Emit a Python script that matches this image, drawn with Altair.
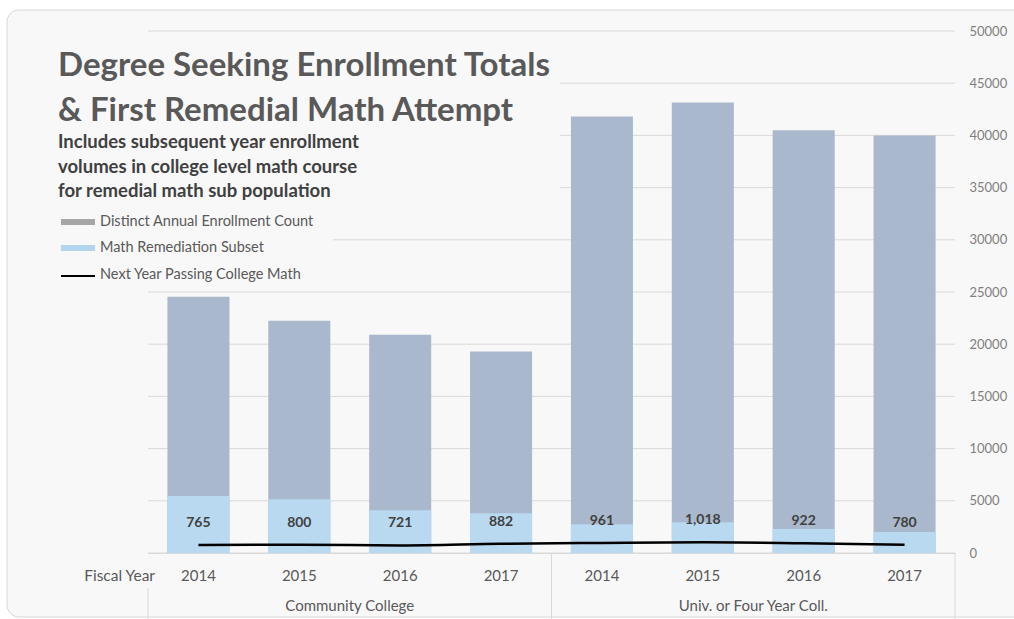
import altair as alt
import pandas as pd

# ---- data ----
groups = ["Community College"] * 4 + ["Univ. or Four Year Coll."] * 4
years = ["2014", "2015", "2016", "2017"] * 2
totals = [24550, 22250, 20900, 19300, 41800, 43150, 40500, 40000]
remedial = [5450, 5150, 4100, 3800, 2750, 2950, 2300, 2000]
passing = [765, 800, 721, 882, 961, 1018, 922, 780]
y_ticks = list(range(0, 50001, 5000))
group_names = ["Community College", "Univ. or Four Year Coll."]
title_lines = ["Degree Seeking Enrollment Totals", "& First Remedial Math Attempt"]
subtitle_lines = ["Includes subsequent year enrollment",
                  "volumes in college level math course",
                  "for remedial math sub population"]
legend_labels = ["Distinct Annual Enrollment Count", "Math Remediation Subset",
                 "Next Year Passing College Math"]

df = pd.DataFrame({"group": groups, "year": years, "total": totals,
                   "remedial": remedial, "passing": passing})
df["key"] = df["group"] + "|" + df["year"]
order = list(df["key"])
grid_df = pd.DataFrame({"v": y_ticks})
one = pd.DataFrame({"a": [0]})

FONT = "Lato"
CARD = "#f8f8f8"
TXT = "#595959"
W, H = 807, 522

x_axis = alt.Axis(title=None, labelExpr="split(datum.label,'|')[1]",
                  labelAngle=0, ticks=False, tickSize=0, labelPadding=15,
                  labelFont=FONT, labelFontSize=15, labelColor=TXT,
                  domainColor="#d9d9d9", grid=False, zindex=2)
x_enc = alt.X("key:N", sort=order,
              scale=alt.Scale(paddingInner=0.385, paddingOuter=0.1925),
              axis=x_axis)
y_scale = alt.Scale(domain=[0, 50000], nice=False, zero=True)
y_axis = alt.Axis(orient="right", values=y_ticks, format="d", title=None,
                  domain=False, ticks=False, tickSize=0, grid=False, labelPadding=14,
                  labelFont=FONT, labelFontSize=13, labelColor="#7f7f7f", zindex=2)

base = alt.Chart(df)

card = alt.Chart(one).mark_rect(fill=CARD, stroke="#d6d6d6", strokeWidth=1,
                                cornerRadius=12).encode(
    x=alt.value(-141), x2=alt.value(950), y=alt.value(-21), y2=alt.value(586))

grid = alt.Chart(grid_df).mark_rule(color="#d9d9d9", strokeWidth=1).encode(
    y=alt.Y("v:Q", scale=y_scale, axis=y_axis), x=alt.value(0), x2=alt.value(W))

mask1 = alt.Chart(one).mark_rect(fill=CARD).encode(
    x=alt.value(0), x2=alt.value(412), y=alt.value(10), y2=alt.value(190))
mask2 = alt.Chart(one).mark_rect(fill=CARD).encode(
    x=alt.value(0), x2=alt.value(185), y=alt.value(190), y2=alt.value(240))

bars_total = base.mark_bar(color="#a9b8cc").encode(
    x=x_enc, y=alt.Y("total:Q", scale=y_scale, axis=y_axis))
bars_rem = base.mark_bar(color="#b9d9f0").encode(
    x=alt.X("key:N", sort=order, axis=x_axis),
    y=alt.Y("remedial:Q", scale=y_scale, axis=y_axis))
line = base.mark_line(color="black", strokeWidth=2.5, interpolate="monotone").encode(
    x=alt.X("key:N", sort=order, axis=x_axis),
    y=alt.Y("passing:Q", scale=y_scale, axis=y_axis))
labels = base.mark_text(font=FONT, fontSize=14, fontWeight="bold", color="#404040",
                        dy=-22).encode(
    x=alt.X("key:N", sort=order, axis=x_axis),
    y=alt.Y("passing:Q", scale=y_scale, axis=y_axis),
    text=alt.Text("passing:Q", format=",.0f"))

layers = [card, grid, mask1, mask2, bars_total, bars_rem, line, labels]

# titles
for txt, yy in zip(title_lines, [45, 90]):
    layers.append(alt.Chart(one).mark_text(font=FONT, fontSize=33, fontWeight="bold",
                                           color=TXT, align="left", baseline="alphabetic").encode(
        x=alt.value(-90), y=alt.value(yy), text=alt.value(txt)))
for txt, yy in zip(subtitle_lines, [117, 142, 166]):
    layers.append(alt.Chart(one).mark_text(font=FONT, fontSize=18.5, fontWeight="bold",
                                           color="#404040", align="left", baseline="alphabetic").encode(
        x=alt.value(-90), y=alt.value(yy), text=alt.value(txt)))

# legend
layers.append(alt.Chart(one).mark_rect(fill="#a6a6a6").encode(
    x=alt.value(-87), x2=alt.value(-53), y=alt.value(188), y2=alt.value(194)))
layers.append(alt.Chart(one).mark_rect(fill="#b4d5ee").encode(
    x=alt.value(-87), x2=alt.value(-53), y=alt.value(214), y2=alt.value(220)))
layers.append(alt.Chart(one).mark_rule(color="black", strokeWidth=2).encode(
    x=alt.value(-87), x2=alt.value(-53), y=alt.value(245)))
for txt, yy in zip(legend_labels, [191, 217, 244]):
    layers.append(alt.Chart(one).mark_text(font=FONT, fontSize=14.5, color=TXT,
                                           align="left", baseline="middle").encode(
        x=alt.value(-48), y=alt.value(yy), text=alt.value(txt)))

# bottom category box
sep_color = "#d9d9d9"
layers.append(alt.Chart(one).mark_rule(color=sep_color).encode(
    x=alt.value(0), y=alt.value(557), y2=alt.value(590)))
layers.append(alt.Chart(one).mark_rule(color=sep_color).encode(
    x=alt.value(W / 2), y=alt.value(H), y2=alt.value(590)))
layers.append(alt.Chart(one).mark_rule(color=sep_color).encode(
    x=alt.value(W), y=alt.value(H), y2=alt.value(590)))
for txt, xx in zip(group_names, [W / 4, 3 * W / 4]):
    layers.append(alt.Chart(one).mark_text(font=FONT, fontSize=15, color=TXT,
                                           align="center", baseline="middle").encode(
        x=alt.value(xx), y=alt.value(575), text=alt.value(txt)))
layers.append(alt.Chart(one).mark_text(font=FONT, fontSize=15.5, color=TXT,
                                       align="right", baseline="middle").encode(
    x=alt.value(7), y=alt.value(545), text=alt.value("Fiscal Year")))

chart = alt.layer(*layers).properties(
    width=W, height=H, autosize="none",
    padding={"left": 148, "top": 31, "right": 59, "bottom": 66},
    background="white",
).configure_view(stroke=None)

chart.save("out.html", embed_options={"renderer": "svg", "actions": False})
